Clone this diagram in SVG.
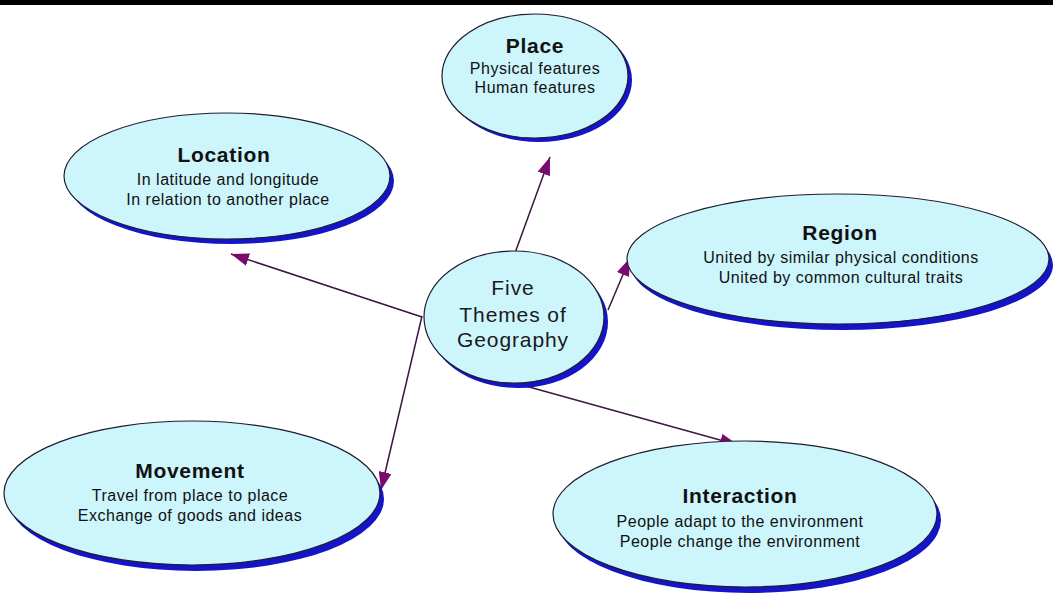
<svg xmlns="http://www.w3.org/2000/svg" width="1053" height="593" viewBox="0 0 1053 593">
<style>
.sh{fill:#1414c8;}
.el{fill:#cdf5fc;stroke:#1e1e2e;stroke-width:1.2;}
.t{font-family:"Liberation Sans",Arial,sans-serif;font-weight:bold;font-size:21px;fill:#111;text-anchor:middle;letter-spacing:0.7px;}
.s{font-family:"Liberation Sans",Arial,sans-serif;font-size:16px;fill:#111;text-anchor:middle;letter-spacing:0.5px;}
.c{font-family:"Liberation Sans",Arial,sans-serif;font-size:21px;fill:#1a1a1a;text-anchor:middle;letter-spacing:0.9px;}
.ln{stroke:#3a1640;stroke-width:1.5;fill:none;marker-end:url(#ah);}
</style>
<defs>
<marker id="ah" viewBox="0 0 18 13" refX="18" refY="6.5" markerWidth="18" markerHeight="13" markerUnits="userSpaceOnUse" orient="auto">
<path d="M0,0 L18,6.5 L0,13 Z" fill="#7a0a70"/>
</marker>
</defs>
<rect x="0" y="0" width="1053" height="593" fill="#ffffff"/>
<rect x="0" y="0" width="1053" height="5" fill="#000"/>
<g id="connectors">
<line class="ln" x1="515" y1="253" x2="550" y2="157"/>
<line class="ln" x1="422" y1="317" x2="231" y2="254"/>
<line class="ln" x1="608" y1="310" x2="630" y2="258"/>
<line class="ln" x1="422" y1="316" x2="381" y2="490"/>
<line class="ln" x1="522" y1="385" x2="738" y2="445"/>
</g>
<g id="place">
<ellipse class="sh" cx="539" cy="80" rx="93" ry="62"/>
<ellipse class="el" cx="535" cy="76" rx="93" ry="62"/>
<text class="t" x="535" y="53">Place</text>
<text class="s" x="535" y="74">Physical features</text>
<text class="s" x="535" y="93">Human features</text>
</g>
<g id="location">
<ellipse class="sh" cx="231" cy="181" rx="163" ry="63"/>
<ellipse class="el" cx="227" cy="176" rx="163" ry="63"/>
<text class="t" x="224" y="162">Location</text>
<text class="s" x="228" y="185">In latitude and longitude</text>
<text class="s" x="228" y="205">In relation to another place</text>
</g>
<g id="region">
<ellipse class="sh" cx="842" cy="265" rx="211" ry="65"/>
<ellipse class="el" cx="838" cy="259" rx="211" ry="65"/>
<text class="t" x="840" y="240">Region</text>
<text class="s" x="841" y="263">United by similar physical conditions</text>
<text class="s" x="841" y="283">United by common cultural traits</text>
</g>
<g id="center">
<ellipse class="sh" cx="518" cy="322" rx="90" ry="66"/>
<ellipse class="el" cx="514" cy="317" rx="90" ry="66"/>
<text class="c" x="513" y="295">Five</text>
<text class="c" x="513" y="322">Themes of</text>
<text class="c" x="513" y="347">Geography</text>
</g>
<g id="movement">
<ellipse class="sh" cx="196" cy="499" rx="188" ry="72"/>
<ellipse class="el" cx="192" cy="493" rx="188" ry="72"/>
<text class="t" x="190" y="478">Movement</text>
<text class="s" x="190" y="501">Travel from place to place</text>
<text class="s" x="190" y="521">Exchange of goods and ideas</text>
</g>
<g id="interaction">
<ellipse class="sh" cx="749" cy="520" rx="192" ry="73"/>
<ellipse class="el" cx="745" cy="514" rx="192" ry="73"/>
<text class="t" x="740" y="503">Interaction</text>
<text class="s" x="740" y="527">People adapt to the environment</text>
<text class="s" x="740" y="547">People change the environment</text>
</g>
</svg>
